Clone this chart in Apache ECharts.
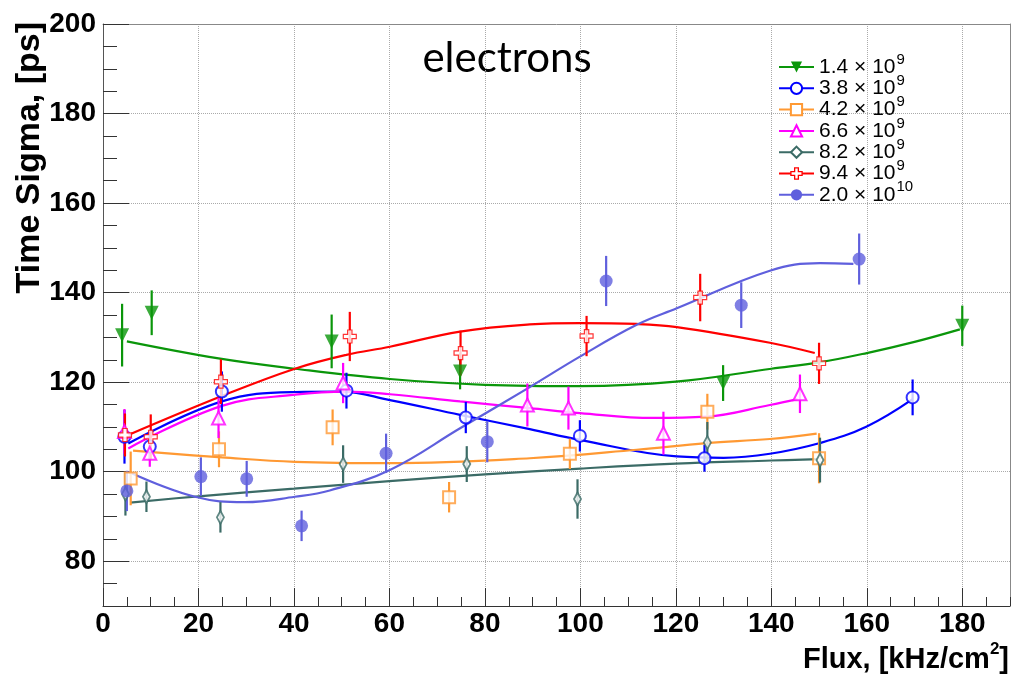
<!DOCTYPE html>
<html><head><meta charset="utf-8">
<script src="https://cdn.jsdelivr.net/npm/echarts@6/dist/echarts.min.js"></script>
<style>html,body{margin:0;padding:0;background:#fff}#c{width:1013px;height:677px}</style>
</head><body><div id="c"></div>
<script>
// Legend labels: mantissa x 10^exponent
const legendMantissas = ['1.4', '3.8', '4.2', '6.6', '8.2', '9.4', '2.0'];
const legendExponents = ['9', '9', '9', '9', '9', '9', '10'];

// Axis tick labels
const xTickValues = [0, 20, 40, 60, 80, 100, 120, 140, 160, 180];
const yTickValues = [80, 100, 120, 140, 160, 180, 200];

// Measured points: [flux, time sigma, error]
const pts14 = [[4.0,130.5,7],[10.2,135.5,5],[47.9,129.1,6],[74.8,122.4,4],[129.9,119.8,4],[180.0,132.6,4.5]];
const pts38 = [[4.5,107.8,6],[9.8,105.6,3],[24.9,117.9,4.5],[51.0,118.1,4],[76.0,112.1,3.5],[99.9,108.0,3.5],[126.0,103.0,3],[169.6,116.6,4]];
const pts42 = [[5.8,98.5,6],[24.3,105.0,4],[48.1,109.9,4],[72.5,94.3,3.4],[97.8,104.0,3.4],[126.6,113.4,4],[150.0,103.0,5.6]];
const pts66 = [[4.5,109.0,5],[9.8,104.1,3],[24.2,112.0,4.5],[50.3,119.8,4.5],[88.9,114.9,4.8],[97.5,114.2,4.8],[117.4,108.6,4.8],[146.0,117.4,4.3]];
const pts82 = [[4.7,95.0,4.8],[9.1,94.4,3.4],[24.6,89.8,3.4],[50.3,101.7,4.2],[76.2,101.7,4],[99.4,93.9,4.4],[126.6,106.5,4.6],[150.2,102.6,5]];
const pts94 = [[4.6,108.2,4.8],[10.0,107.8,5],[24.7,120.1,5],[51.7,130.2,5.5],[74.9,126.5,5],[101.3,130.3,4.5],[125.1,138.9,5.3],[150.0,124.2,4.6]];
const pts200 = [[5.0,95.7,4.5],[20.5,98.9,4.3],[30.1,98.4,4],[41.6,87.9,3.4],[59.3,104.1,4.4],[80.5,106.7,4.6],[105.4,142.6,5.6],[133.7,137.2,5.1],[158.4,147.5,5.7]];

// Fit curves: [flux, time sigma]
const fit14 = [[5,129.1],[24.2,125.3],[40.2,123.0],[60.1,120.7],[80,119.4],[100,119.1],[120,120.1],[140,123.0],[150,124.4],[160,126.5],[170,129.0],[179.5,131.8]];
const fit38 = [[5.3,106.3],[24.9,115.7],[40,117.8],[50,117.9],[60.1,116.0],[74.8,112.7],[89.4,109.5],[99.9,107.1],[120.2,103.4],[130,103.1],[139.7,104.0],[150.2,106.4],[160,110.1],[169.6,116.2]];
const fit42 = [[6.3,104.7],[24.9,103.2],[40.2,102.2],[60.1,101.9],[89.4,103.0],[111.8,104.9],[126.4,106.4],[139.7,107.3],[149.5,108.5]];
const fit66 = [[5.3,105.2],[24.9,114.7],[40.2,117.2],[51,117.9],[60.1,117.3],[74.8,115.7],[89.4,114.2],[99.9,113.1],[115.3,112.0],[126.4,112.3],[139.7,114.9],[145.5,116.2]];
const fit82 = [[5.7,93.1],[20,94.5],[40,96.2],[60,97.9],[80,99.4],[100,100.7],[120,101.8],[140,102.5],[150,102.8]];
const fit94 = [[5.3,108.2],[24.9,116.9],[40.2,123.0],[51,126.1],[60.1,127.9],[74.8,131.3],[89.4,132.9],[99.9,133.2],[111.8,133.0],[120.2,132.3],[139.7,128.8],[149.1,126.5]];
const fit200 = [[5.3,100.0],[19.3,94.4],[29.7,93.2],[40.2,94.4],[47.5,95.8],[60.1,100.4],[74.8,109.7],[89.4,118.9],[99.9,125.7],[111.8,132.8],[120.2,136.5],[139.7,144.9],[150.2,146.6],[157.2,146.4]];

const allPts = [pts14, pts38, pts42, pts66, pts82, pts94, pts200];
const allFits = [fit14, fit38, fit42, fit66, fit82, fit94, fit200];

const palette = ['#0a960a', '#0000ff', '#ff9933', '#ff00ff', '#3b6b66', '#ff0000', '#5f5fdd'];
const crossPath = 'path://M4,0L8,0L8,4L12,4L12,8L8,8L8,12L4,12L4,8L0,8L0,4L4,4Z';
const symbols = ['triangle', 'emptyCircle', 'emptyRect', 'emptyTriangle', 'emptyDiamond', crossPath, 'circle'];
const symRot = [180, 0, 0, 0, 0, 0, 0];
const symSize = [14, 12, 12, 13, [7, 13], 13, 13];

const names = legendMantissas.map((m, i) => m + ' \u00d7 10^' + legendExponents[i]);

const series = [];
names.forEach((name, i) => {
  const c = palette[i];
  series.push({
    type: 'line', name: name, data: allFits[i], smooth: 0.4,
    symbol: symbols[i], symbolRotate: symRot[i], showSymbol: false,
    lineStyle: { color: c, width: 2.2 }, itemStyle: { color: c }, z: 3, silent: true
  });
  series.push({
    type: 'custom', name: name, data: allPts[i], encode: { x: 0, y: 1 }, z: 4, silent: true,
    renderItem: function (params, api) {
      const x = api.value(0), y = api.value(1), e = api.value(2);
      const p1 = api.coord([x, y + e]), p2 = api.coord([x, y - e]);
      return { type: 'line', shape: { x1: p1[0], y1: p1[1], x2: p2[0], y2: p2[1] }, style: { stroke: c, lineWidth: 2.2 } };
    }
  });
  const hollowPath = (i === 5);
  series.push({
    type: 'scatter', name: name, data: allPts[i].map(p => [p[0], p[1]]),
    symbol: symbols[i], symbolRotate: symRot[i], symbolSize: symSize[i], z: 5, silent: true,
    itemStyle: hollowPath ? { color: '#ffffff', borderColor: c, borderWidth: 1.2 } : { color: c, borderWidth: 1.2 }
  });
});

const labelFont = { color: '#000', fontFamily: '"Liberation Sans", Arial, sans-serif', fontWeight: 'bold', fontSize: 28 };
const hiddenAxis = { axisLine: { show: false }, axisLabel: { show: false }, splitLine: { show: false } };

const chart = echarts.init(document.getElementById('c'), null, { renderer: 'canvas' });
chart.setOption({
  animation: false,
  backgroundColor: '#ffffff',
  grid: { left: 103, right: 3, top: 24, bottom: 71 },
  xAxis: [{
    type: 'value', min: 0, max: 190, interval: 20,
    axisLine: { show: true, lineStyle: { color: '#333', width: 1 } },
    axisTick: { show: true, inside: true, length: 18, customValues: xTickValues, lineStyle: { color: '#333' } },
    splitLine: { show: true, lineStyle: { color: '#aaa', type: 'dotted', width: 1 } },
    axisLabel: Object.assign({ customValues: xTickValues, margin: 4 }, labelFont)
  }, {
    type: 'value', min: 0, max: 190, position: 'top',
    axisLine: { show: true, onZero: false, lineStyle: { color: '#888' } },
    axisTick: { show: false }, axisLabel: { show: false }, splitLine: { show: false }
  }, Object.assign({
    type: 'value', min: 0, max: 190, interval: 5, position: 'bottom',
    axisTick: { show: true, inside: true, length: 9, lineStyle: { color: '#333' } }
  }, hiddenAxis)],
  yAxis: [{
    type: 'value', min: 70, max: 200, interval: 10,
    axisLine: { show: true, lineStyle: { color: '#555', width: 1 } },
    axisTick: { show: true, inside: true, length: 26, customValues: yTickValues, lineStyle: { color: '#333' } },
    splitLine: { show: true, lineStyle: { color: '#aaa', type: 'dotted', width: 1 } },
    axisLabel: Object.assign({ customValues: yTickValues, margin: 7 }, labelFont)
  }, {
    type: 'value', min: 70, max: 200, position: 'right',
    axisLine: { show: true, onZero: false, lineStyle: { color: '#888' } },
    axisTick: { show: false }, axisLabel: { show: false }, splitLine: { show: false }
  }, Object.assign({
    type: 'value', min: 70, max: 200, interval: 5, position: 'left',
    axisTick: { show: true, inside: true, length: 14, lineStyle: { color: '#333' } }
  }, hiddenAxis)],
  legend: {
    orient: 'vertical', left: 773, top: 47, itemWidth: 35, itemHeight: 14, itemGap: -4.2,
    data: names.map((n, i) => i === 5
      ? { name: n, itemStyle: { color: '#ffffff', borderColor: palette[i], borderWidth: 1.3 } }
      : { name: n }),
    formatter: function (n) { const parts = n.split('^'); return '{b|' + parts[0] + '}{sup|' + parts[1] + '}'; },
    textStyle: {
      color: '#000',
      rich: {
        b: { fontFamily: '"Liberation Sans", Arial, sans-serif', fontSize: 21, lineHeight: 21, color: '#000' },
        sup: { fontFamily: '"Liberation Sans", Arial, sans-serif', fontSize: 15, height: 6, lineHeight: 6, verticalAlign: 'top', color: '#000', padding: [0, 0, 0, 1] }
      }
    }
  },
  graphic: [
    { type: 'text', x: 507, y: 58, style: { text: 'electrons', font: '42px Lato, "Open Sans", sans-serif', fill: '#000', textAlign: 'center', textVerticalAlign: 'middle' } },
    { type: 'text', x: 30, y: 22, rotation: Math.PI / 2, style: { text: 'Time Sigma, [ps]', font: 'bold 34px "Liberation Sans", Arial, sans-serif', fill: '#000', textAlign: 'right', textVerticalAlign: 'middle' } },
    { type: 'text', x: 1009, y: 660, style: { text: 'Flux, [kHz/cm{s|2}]', font: 'bold 29px "Liberation Sans", Arial, sans-serif', fill: '#000', textAlign: 'right', textVerticalAlign: 'middle',
      rich: { s: { font: 'bold 17px "Liberation Sans", Arial, sans-serif', height: 8, lineHeight: 8, verticalAlign: 'top' } } } }
  ],
  series: series
});
</script>
</body></html>
